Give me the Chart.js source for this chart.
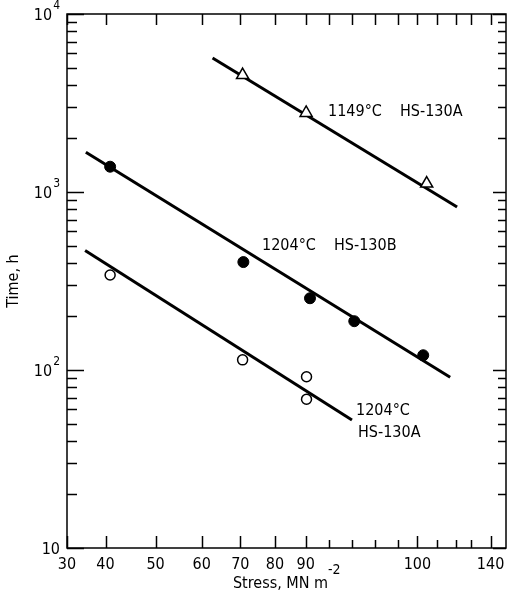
<!DOCTYPE html>
<html>
<head>
<meta charset="utf-8">
<script src="https://cdn.jsdelivr.net/npm/chart.js@4.4.1/dist/chart.umd.min.js"></script>
<style>
  html, body { margin: 0; padding: 0; background: #fff; }
  canvas { display: block; }
</style>
</head>
<body>
<canvas id="rupture" width="509" height="599"></canvas>
<script>
// stress axis: tick positions (axis units) and the text printed under them
const xTickValues = [30, 40, 53, 65, 75, 84, 92, 98, 104, 110, 116, 121, 126, 131, 135, 140];
const xTickLabels = ['30', '40', '50', '60', '70', '80', '90', '', '', '', '', '100', '', '', '', '140'];
// time axis: decade labels as base and exponent
const decadeValues = [10, 100, 1000, 10000];
const decadeExponents = ['', '2', '3', '4'];

// 1149 C, HS-130A (open triangles)
const stress1149 = [75.6, 92.1, 123.4];
const time1149 = [4540, 2780, 1116];
// 1204 C, HS-130B (filled circles)
const stress1204B = [41.2, 75.8, 93.1, 104.6, 122.5];
const time1204B = [1387, 404, 253, 188, 121];
// 1204 C, HS-130A (open circles)
const stress1204A = [41.2, 75.6, 92.2, 92.2];
const time1204A = [342, 114, 91.6, 68.5];

// fitted lines, end points
const fitStress1149 = [67.8, 131.3];
const fitTime1149 = [5660, 824];
const fitStress1204B = [34.9, 129.5];
const fitTime1204B = [1671, 91];
const fitStress1204A = [34.7, 104.0];
const fitTime1204A = [469, 52.4];

const FONT = "'DejaVu Sans Condensed', 'DejaVu Sans', sans-serif";

const yTickValues = [];
[10, 100, 1000].forEach(d => {
  for (let m = 1; m < 10; m++) yTickValues.push(d * m);
});
yTickValues.push(10000);

const pts = (xs, ys) => xs.map((x, i) => ({ x, y: ys[i] }));

function fitLine(xs, ys) {
  return {
    data: pts(xs, ys),
    borderColor: '#000',
    borderWidth: 3,
    pointRadius: 0,
    showLine: true,
    order: 1
  };
}

// box, inward tick marks, decade labels, stress title and curve captions
const frameAndTicks = {
  id: 'frameAndTicks',
  afterDraw(chart) {
    const { ctx, chartArea: a, scales: { x, y } } = chart;
    ctx.save();
    ctx.strokeStyle = '#000';
    ctx.lineWidth = 1.5;
    ctx.strokeRect(a.left, a.top, a.right - a.left, a.bottom - a.top);

    ctx.beginPath();
    xTickValues.forEach((v, i) => {
      const px = Math.round(x.getPixelForValue(v)) + 0.5;
      const len = xTickLabels[i] ? 12 : 8;
      ctx.moveTo(px, a.bottom);
      ctx.lineTo(px, a.bottom - len);
      ctx.moveTo(px, a.top);
      ctx.lineTo(px, a.top + 11);
    });
    yTickValues.forEach(v => {
      const py = Math.round(y.getPixelForValue(v)) + 0.5;
      const major = decadeValues.includes(v);
      ctx.moveTo(a.left, py);
      ctx.lineTo(a.left + (major ? 17 : 10), py);
      ctx.moveTo(a.right, py);
      ctx.lineTo(a.right - (major ? 13 : 8), py);
    });
    ctx.stroke();

    ctx.fillStyle = '#000';
    ctx.textBaseline = 'alphabetic';

    // 10, 10^2, 10^3, 10^4 beside the time axis
    decadeValues.forEach((v, i) => {
      const py = y.getPixelForValue(v);
      const exp = decadeExponents[i];
      ctx.font = '12px ' + FONT;
      const ew = exp ? ctx.measureText(exp).width + 1 : 0;
      ctx.textAlign = 'right';
      ctx.fillText(exp, a.left - 7, py - 5);
      ctx.font = '16px ' + FONT;
      ctx.fillText('10', a.left - 7 - ew, py + 6);
    });

    // stress axis title with its exponent
    ctx.textAlign = 'left';
    ctx.font = '16px ' + FONT;
    const base = 'Stress, MN m';
    const bw = ctx.measureText(base).width;
    const tx = (a.left + a.right) / 2 - (bw + 12) / 2;
    ctx.fillText(base, tx, 588);
    ctx.font = '14px ' + FONT;
    ctx.fillText('-2', tx + bw, 574);

    ctx.font = '16px ' + FONT;
    ctx.fillText('1149°C', 328, 116);
    ctx.fillText('HS-130A', 400, 116);
    ctx.fillText('1204°C', 262, 250);
    ctx.fillText('HS-130B', 334, 250);
    ctx.fillText('1204°C', 356, 415);
    ctx.fillText('HS-130A', 358, 437);
    ctx.restore();
  }
};

new Chart(document.getElementById('rupture'), {
  type: 'scatter',
  data: {
    datasets: [
      {
        data: pts(stress1149, time1149),
        pointStyle: 'triangle',
        pointRadius: 7,
        backgroundColor: '#fff',
        borderColor: '#000',
        borderWidth: 1.5,
        order: 0
      },
      {
        data: pts(stress1204B, time1204B),
        pointStyle: 'circle',
        pointRadius: 5.5,
        backgroundColor: '#000',
        borderColor: '#000',
        borderWidth: 1,
        order: 0
      },
      {
        data: pts(stress1204A, time1204A),
        pointStyle: 'circle',
        pointRadius: 5,
        backgroundColor: '#fff',
        borderColor: '#000',
        borderWidth: 1.5,
        order: 0
      },
      fitLine(fitStress1149, fitTime1149),
      fitLine(fitStress1204B, fitTime1204B),
      fitLine(fitStress1204A, fitTime1204A)
    ]
  },
  options: {
    responsive: false,
    animation: false,
    devicePixelRatio: 1,
    layout: { autoPadding: false, padding: { top: 14, right: 3, left: 0, bottom: 0 } },
    plugins: { legend: { display: false }, tooltip: { enabled: false } },
    scales: {
      x: {
        type: 'linear',
        min: 30,
        max: 144,
        afterBuildTicks: s => { s.ticks = xTickValues.map(v => ({ value: v })); },
        afterFit: s => { s.height = 51; s.paddingLeft = 0; s.paddingRight = 0; },
        grid: { display: false, drawTicks: false },
        border: { display: false },
        ticks: {
          autoSkip: false,
          maxRotation: 0,
          padding: 7,
          color: '#000',
          font: { family: FONT, size: 16 },
          callback: (v, i) => xTickLabels[i]
        }
      },
      y: {
        type: 'logarithmic',
        min: 10,
        max: 10000,
        afterBuildTicks: s => { s.ticks = yTickValues.map(v => ({ value: v })); },
        afterFit: s => { s.width = 67; s.paddingTop = 0; s.paddingBottom = 0; },
        grid: { display: false, drawTicks: false },
        border: { display: false },
        ticks: { display: false },
        title: {
          display: true,
          text: 'Time, h',
          color: '#000',
          font: { family: FONT, size: 16 },
          padding: { top: 4, bottom: 0 }
        }
      }
    }
  },
  plugins: [frameAndTicks]
});
</script>
</body>
</html>
